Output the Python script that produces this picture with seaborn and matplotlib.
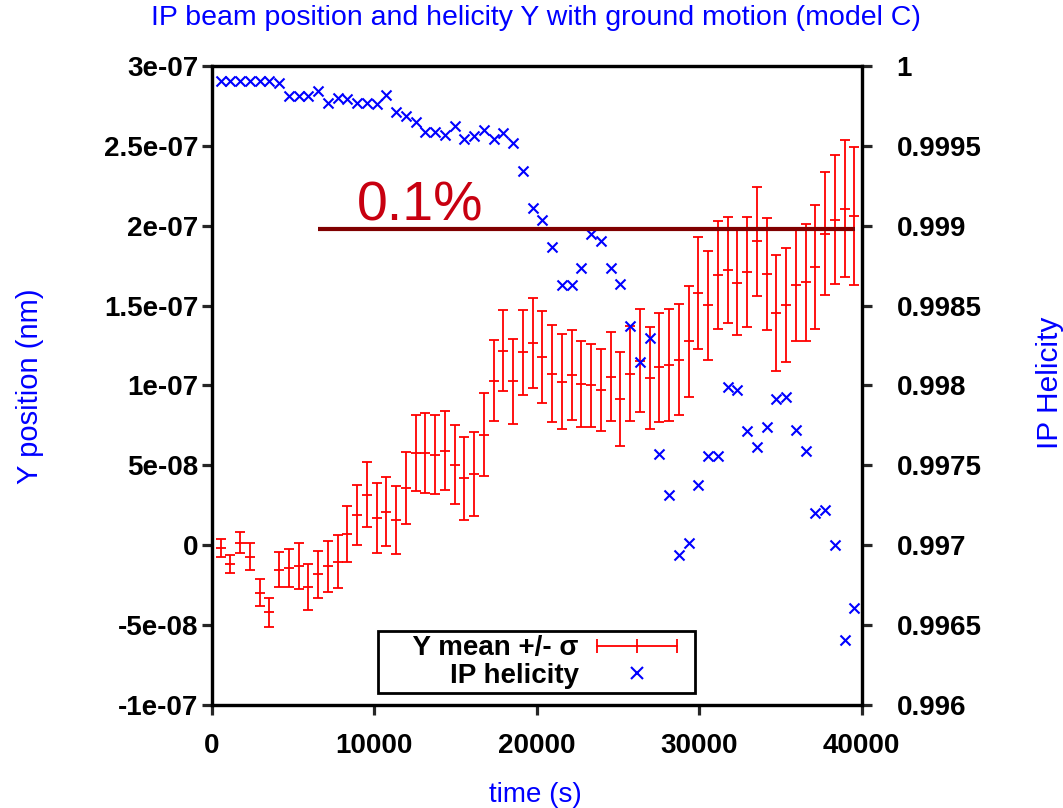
import numpy as np
import pandas as pd
import matplotlib
matplotlib.use("Agg")
import matplotlib.pyplot as plt
from matplotlib.lines import Line2D
from matplotlib.legend_handler import HandlerLine2D
import seaborn as sns

# ---------------- data ----------------
time_s = [550, 1150, 1750, 2350, 2950, 3550, 4150, 4750, 5350, 5950,
          6550, 7150, 7750, 8350, 8950, 9550, 10150, 10750, 11350, 11950,
          12550, 13150, 13750, 14350, 14950, 15550, 16150, 16750, 17350, 17950,
          18550, 19150, 19750, 20350, 20950, 21550, 22150, 22750, 23350, 23950,
          24550, 25150, 25750, 26350, 26950, 27550, 28150, 28750, 29350, 29950,
          30550, 31150, 31750, 32350, 32950, 33550, 34150, 34750, 35350, 35950,
          36550, 37150, 37750, 38350, 38950, 39550]

# Y mean (units of 1e-8)
y_mean_e8 = [-0.18, -1.18, 0.16, -0.72, -2.96, -4.21, -1.54, -1.43, -1.31, -2.64,
             -1.83, -1.31, -1.03, 0.70, 1.89, 3.15, 1.70, 2.10, 1.60, 3.58,
             5.76, 5.80, 5.68, 5.92, 5.05, 4.19, 4.46, 6.91, 10.31, 12.19,
             10.27, 12.07, 12.65, 11.78, 10.73, 10.25, 10.63, 10.10, 10.00, 9.73,
             10.56, 9.14, 10.75, 11.55, 10.48, 11.13, 11.27, 11.61, 12.76, 15.77,
             15.02, 16.90, 17.23, 16.44, 17.13, 19.03, 16.98, 14.53, 15.02, 16.29,
             16.46, 17.40, 19.51, 20.39, 21.06, 20.62]

# Y sigma (units of 1e-8)
y_sigma_e8 = [0.56, 0.57, 0.67, 0.84, 0.87, 0.89, 1.10, 1.18, 1.43, 1.44,
              1.50, 1.59, 1.67, 1.76, 1.89, 2.03, 2.18, 2.16, 2.12, 2.25,
              2.39, 2.50, 2.49, 2.46, 2.46, 2.59, 2.65, 2.60, 2.53, 2.55,
              2.66, 2.68, 2.80, 2.88, 3.04, 2.97, 2.82, 2.70, 2.61, 2.57,
              2.78, 2.95, 2.95, 3.22, 3.21, 3.42, 3.50, 3.48, 3.49, 3.51,
              3.43, 3.39, 3.29, 3.30, 3.44, 3.41, 3.53, 3.64, 3.57, 3.53,
              3.68, 3.89, 3.84, 4.01, 4.29, 4.34]

ip_helicity = [0.999908, 0.999908, 0.999908, 0.999908, 0.999908, 0.999908, 0.999891, 0.999812, 0.999812, 0.999812,
               0.999845, 0.999770, 0.999797, 0.999791, 0.999766, 0.999766, 0.999760, 0.999818, 0.999714, 0.999689,
               0.999651, 0.999588, 0.999588, 0.999567, 0.999624, 0.999540, 0.999561, 0.999599, 0.999540, 0.999578,
               0.999515, 0.999344, 0.999110, 0.999034, 0.998867, 0.998627, 0.998627, 0.998736, 0.998951, 0.998903,
               0.998738, 0.998633, 0.998370, 0.998144, 0.998296, 0.997570, 0.997317, 0.996940, 0.997011, 0.997379,
               0.997557, 0.997561, 0.997990, 0.997969, 0.997718, 0.997618, 0.997739, 0.997916, 0.997927, 0.997722,
               0.997592, 0.997200, 0.997220, 0.997003, 0.996408, 0.996610]

x_ticks = [0, 10000, 20000, 30000, 40000]
x_tick_labels = ["0", "10000", "20000", "30000", "40000"]
left_ticks = [3e-7, 2.5e-7, 2e-7, 1.5e-7, 1e-7, 5e-8, 0, -5e-8, -1e-7]
left_tick_labels = ["3e-07", "2.5e-07", "2e-07", "1.5e-07", "1e-07", "5e-08", "0", "-5e-08", "-1e-07"]
right_ticks = [1.0, 0.9995, 0.999, 0.9985, 0.998, 0.9975, 0.997, 0.9965, 0.996]
right_tick_labels = ["1", "0.9995", "0.999", "0.9985", "0.998", "0.9975", "0.997", "0.9965", "0.996"]

legend_labels = ["    Y mean +/- σ", "IP helicity"]

# annotation
ref_level = 0.99898          # on helicity axis ("0.1%" line)
ref_x_start, ref_x_end = 6540, 39590
note_text = "0.1%"
note_x, note_y = 8940, 0.999034

df = pd.DataFrame({"time": time_s,
                   "ymean": np.array(y_mean_e8) * 1e-8,
                   "ysig": np.array(y_sigma_e8) * 1e-8,
                   "hel": ip_helicity})

# ---------------- style ----------------
sns.set_theme(style="white")
plt.rcParams["font.family"] = ["Liberation Sans", "DejaVu Sans"]
plt.rcParams["text.color"] = "black"

RED = "#ff0000"
BLUE = "#0000ff"
DARKRED = "#800000"
TICKFS = 20


class ShortHandler(HandlerLine2D):
    """Line handler that leaves a gap at the right end of the handle box."""
    def __init__(self, shrink=0.0, **kw):
        super().__init__(**kw)
        self._shrink = shrink

    def create_artists(self, legend, orig_handle, xdescent, ydescent,
                       width, height, fontsize, trans):
        return super().create_artists(legend, orig_handle, xdescent, ydescent,
                                      width - self._shrink * fontsize, height,
                                      fontsize, trans)


fig = plt.figure(figsize=(10.63, 8.08), dpi=100)
ax = fig.add_axes([0.1992, 0.1275, 0.6114, 0.7908])
ax2 = ax.twinx()

# error bars
ax.errorbar(df["time"], df["ymean"], yerr=df["ysig"], fmt="_", color=RED,
            ecolor=RED, elinewidth=1.3, capsize=3.6, capthick=1.3,
            markersize=7, markeredgewidth=1.3, zorder=3)

# helicity markers
sns.scatterplot(data=df, x="time", y="hel", ax=ax2, marker="x", color=BLUE,
                s=52, linewidth=1.5, legend=False, zorder=4)

ax2.hlines(ref_level, ref_x_start, ref_x_end, color=DARKRED, lw=3, zorder=5)
ax2.text(note_x, note_y, note_text, color="#c80010", fontsize=40,
         ha="left", va="baseline", zorder=5)

ax.set_xlim(0, 40000)
ax.set_ylim(-1e-7, 3e-7)
ax2.set_ylim(0.996, 1.0)

ax.set_xticks(x_ticks)
ax.set_xticklabels(x_tick_labels)
ax.set_yticks(left_ticks)
ax.set_yticklabels(left_tick_labels)
ax2.set_yticks(right_ticks)
ax2.set_yticklabels(right_tick_labels)
ax.set_xlabel("")
ax.set_ylabel("")
ax2.set_xlabel("")
ax2.set_ylabel("")

for a in (ax, ax2):
    for sp in a.spines.values():
        sp.set_linewidth(2.3)
        sp.set_color("black")
    for lab in a.get_xticklabels() + a.get_yticklabels():
        lab.set_fontweight("bold")
        lab.set_fontsize(TICKFS)
        lab.set_color("black")

ax.tick_params(axis="x", direction="out", length=7, width=2.3, pad=13, bottom=True)
ax.tick_params(axis="y", direction="out", length=7, width=2.3, pad=2.5, left=True)
ax2.tick_params(axis="y", direction="out", length=7, width=2.3, pad=18, right=True)

# texts
fig.text(536.0 / 1063, 1 - 18 / 808,
         "IP beam position and helicity Y with ground motion (model C)",
         color=BLUE, fontsize=20.5, ha="center", va="center")
fig.text(535.0 / 1063, 1 - 795 / 808, "time (s)", color=BLUE, fontsize=20,
         ha="center", va="center")
fig.text(30 / 1063, 1 - 386 / 808, "Y position (nm)", color=BLUE, fontsize=21,
         ha="center", va="center", rotation=90)
fig.text(1050 / 1063, 1 - 383 / 808, "IP Helicity", color=BLUE, fontsize=21.5,
         ha="center", va="center", rotation=90)

# legend
h_err = Line2D([], [], color=RED, marker="|", markersize=10, markeredgewidth=1.3, lw=1.3)
h_sc = Line2D([], [], color=BLUE, marker="x", markersize=8, markeredgewidth=1.5, lw=0)
leg = ax2.legend([h_err, h_sc], legend_labels,
                 loc="lower left", bbox_to_anchor=(0.256, 0.019),
                 markerfirst=False, numpoints=3, frameon=True, fancybox=False,
                 prop={"weight": "bold", "size": TICKFS}, handlelength=3.4,
                 handletextpad=0.65, labelspacing=0.05, borderpad=0.15,
                 borderaxespad=0,
                 handler_map={h_err: ShortHandler(shrink=0.5, marker_pad=0, numpoints=3),
                              h_sc: ShortHandler(shrink=0.5, numpoints=1)})
leg.get_frame().set_edgecolor("black")
leg.get_frame().set_linewidth(2)
leg.get_frame().set_alpha(1)
for t in leg.get_texts():
    t.set_color("black")

fig.savefig("out.png", dpi=100)
